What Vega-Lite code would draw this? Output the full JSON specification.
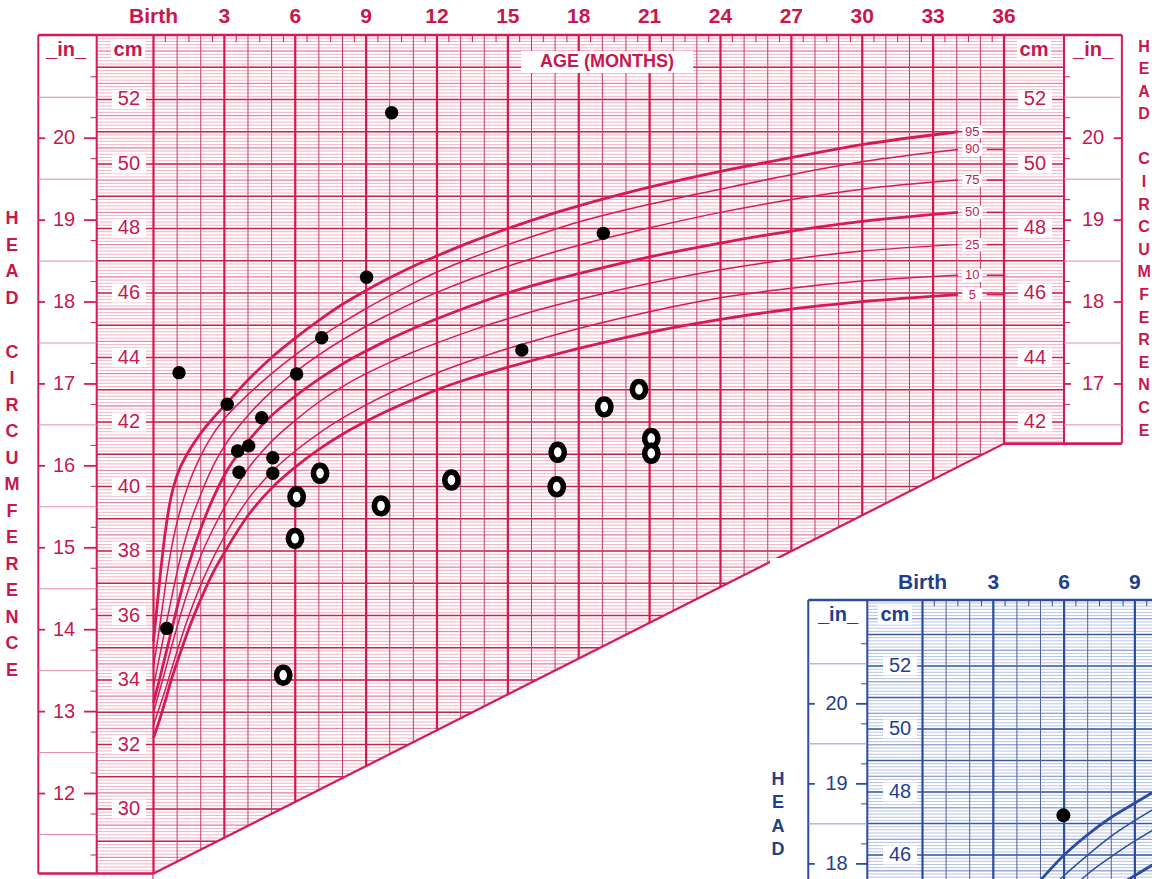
{
"$schema":"https://vega.github.io/schema/vega-lite/v6.json",
"width":1152,"height":879,"autosize":{"type":"none"},"padding":0,"background":"white",
"config":{"view":{"stroke":null},"text":{"font":"Liberation Sans"}},
"datasets":{
"fine":[{"cm":28},{"cm":28.1},{"cm":28.2},{"cm":28.3},{"cm":28.4},{"cm":28.5},{"cm":28.6},{"cm":28.7},{"cm":28.8},{"cm":28.9},{"cm":29},{"cm":29.1},{"cm":29.2},{"cm":29.3},{"cm":29.4},{"cm":29.5},{"cm":29.6},{"cm":29.7},{"cm":29.8},{"cm":29.9},{"cm":30},{"cm":30.1},{"cm":30.2},{"cm":30.3},{"cm":30.4},{"cm":30.5},{"cm":30.6},{"cm":30.7},{"cm":30.8},{"cm":30.9},{"cm":31},{"cm":31.1},{"cm":31.2},{"cm":31.3},{"cm":31.4},{"cm":31.5},{"cm":31.6},{"cm":31.7},{"cm":31.8},{"cm":31.9},{"cm":32},{"cm":32.1},{"cm":32.2},{"cm":32.3},{"cm":32.4},{"cm":32.5},{"cm":32.6},{"cm":32.7},{"cm":32.8},{"cm":32.9},{"cm":33},{"cm":33.1},{"cm":33.2},{"cm":33.3},{"cm":33.4},{"cm":33.5},{"cm":33.6},{"cm":33.7},{"cm":33.8},{"cm":33.9},{"cm":34},{"cm":34.1},{"cm":34.2},{"cm":34.3},{"cm":34.4},{"cm":34.5},{"cm":34.6},{"cm":34.7},{"cm":34.8},{"cm":34.9},{"cm":35},{"cm":35.1},{"cm":35.2},{"cm":35.3},{"cm":35.4},{"cm":35.5},{"cm":35.6},{"cm":35.7},{"cm":35.8},{"cm":35.9},{"cm":36},{"cm":36.1},{"cm":36.2},{"cm":36.3},{"cm":36.4},{"cm":36.5},{"cm":36.6},{"cm":36.7},{"cm":36.8},{"cm":36.9},{"cm":37},{"cm":37.1},{"cm":37.2},{"cm":37.3},{"cm":37.4},{"cm":37.5},{"cm":37.6},{"cm":37.7},{"cm":37.8},{"cm":37.9},{"cm":38},{"cm":38.1},{"cm":38.2},{"cm":38.3},{"cm":38.4},{"cm":38.5},{"cm":38.6},{"cm":38.7},{"cm":38.8},{"cm":38.9},{"cm":39},{"cm":39.1},{"cm":39.2},{"cm":39.3},{"cm":39.4},{"cm":39.5},{"cm":39.6},{"cm":39.7},{"cm":39.8},{"cm":39.9},{"cm":40},{"cm":40.1},{"cm":40.2},{"cm":40.3},{"cm":40.4},{"cm":40.5},{"cm":40.6},{"cm":40.7},{"cm":40.8},{"cm":40.9},{"cm":41},{"cm":41.1},{"cm":41.2},{"cm":41.3},{"cm":41.4},{"cm":41.5},{"cm":41.6},{"cm":41.7},{"cm":41.8},{"cm":41.9},{"cm":42},{"cm":42.1},{"cm":42.2},{"cm":42.3},{"cm":42.4},{"cm":42.5},{"cm":42.6},{"cm":42.7},{"cm":42.8},{"cm":42.9},{"cm":43},{"cm":43.1},{"cm":43.2},{"cm":43.3},{"cm":43.4},{"cm":43.5},{"cm":43.6},{"cm":43.7},{"cm":43.8},{"cm":43.9},{"cm":44},{"cm":44.1},{"cm":44.2},{"cm":44.3},{"cm":44.4},{"cm":44.5},{"cm":44.6},{"cm":44.7},{"cm":44.8},{"cm":44.9},{"cm":45},{"cm":45.1},{"cm":45.2},{"cm":45.3},{"cm":45.4},{"cm":45.5},{"cm":45.6},{"cm":45.7},{"cm":45.8},{"cm":45.9},{"cm":46},{"cm":46.1},{"cm":46.2},{"cm":46.3},{"cm":46.4},{"cm":46.5},{"cm":46.6},{"cm":46.7},{"cm":46.8},{"cm":46.9},{"cm":47},{"cm":47.1},{"cm":47.2},{"cm":47.3},{"cm":47.4},{"cm":47.5},{"cm":47.6},{"cm":47.7},{"cm":47.8},{"cm":47.9},{"cm":48},{"cm":48.1},{"cm":48.2},{"cm":48.3},{"cm":48.4},{"cm":48.5},{"cm":48.6},{"cm":48.7},{"cm":48.8},{"cm":48.9},{"cm":49},{"cm":49.1},{"cm":49.2},{"cm":49.3},{"cm":49.4},{"cm":49.5},{"cm":49.6},{"cm":49.7},{"cm":49.8},{"cm":49.9},{"cm":50},{"cm":50.1},{"cm":50.2},{"cm":50.3},{"cm":50.4},{"cm":50.5},{"cm":50.6},{"cm":50.7},{"cm":50.8},{"cm":50.9},{"cm":51},{"cm":51.1},{"cm":51.2},{"cm":51.3},{"cm":51.4},{"cm":51.5},{"cm":51.6},{"cm":51.7},{"cm":51.8},{"cm":51.9},{"cm":52},{"cm":52.1},{"cm":52.2},{"cm":52.3},{"cm":52.4},{"cm":52.5},{"cm":52.6},{"cm":52.7},{"cm":52.8},{"cm":52.9},{"cm":53},{"cm":53.1},{"cm":53.2},{"cm":53.3},{"cm":53.4},{"cm":53.5},{"cm":53.6},{"cm":53.7},{"cm":53.8},{"cm":53.9},{"cm":54}],
"half":[{"cm":28.5},{"cm":29.5},{"cm":30.5},{"cm":31.5},{"cm":32.5},{"cm":33.5},{"cm":34.5},{"cm":35.5},{"cm":36.5},{"cm":37.5},{"cm":38.5},{"cm":39.5},{"cm":40.5},{"cm":41.5},{"cm":42.5},{"cm":43.5},{"cm":44.5},{"cm":45.5},{"cm":46.5},{"cm":47.5},{"cm":48.5},{"cm":49.5},{"cm":50.5},{"cm":51.5},{"cm":52.5},{"cm":53.5}],
"whole":[{"cm":29},{"cm":30},{"cm":31},{"cm":32},{"cm":33},{"cm":34},{"cm":35},{"cm":36},{"cm":37},{"cm":38},{"cm":39},{"cm":40},{"cm":41},{"cm":42},{"cm":43},{"cm":44},{"cm":45},{"cm":46},{"cm":47},{"cm":48},{"cm":49},{"cm":50},{"cm":51},{"cm":52},{"cm":53}],
"months":[{"m":1},{"m":2},{"m":4},{"m":5},{"m":7},{"m":8},{"m":10},{"m":11},{"m":13},{"m":14},{"m":16},{"m":17},{"m":19},{"m":20},{"m":22},{"m":23},{"m":25},{"m":26},{"m":28},{"m":29},{"m":31},{"m":32},{"m":34},{"m":35}],
"halfm":[{"m":0.5},{"m":1.5},{"m":2.5},{"m":3.5},{"m":4.5},{"m":5.5},{"m":6.5},{"m":7.5},{"m":8.5},{"m":9.5},{"m":10.5},{"m":11.5},{"m":12.5},{"m":13.5},{"m":14.5},{"m":15.5},{"m":16.5},{"m":17.5},{"m":18.5},{"m":19.5},{"m":20.5},{"m":21.5},{"m":22.5},{"m":23.5},{"m":24.5},{"m":25.5},{"m":26.5},{"m":27.5},{"m":28.5},{"m":29.5},{"m":30.5},{"m":31.5},{"m":32.5},{"m":33.5},{"m":34.5},{"m":35.5}],
"m3":[{"m":0,"lab":"Birth"},{"m":3,"lab":"3"},{"m":6,"lab":"6"},{"m":9,"lab":"9"},{"m":12,"lab":"12"},{"m":15,"lab":"15"},{"m":18,"lab":"18"},{"m":21,"lab":"21"},{"m":24,"lab":"24"},{"m":27,"lab":"27"},{"m":30,"lab":"30"},{"m":33,"lab":"33"},{"m":36,"lab":"36"}],
"cmlab":[{"cm":30},{"cm":32},{"cm":34},{"cm":36},{"cm":38},{"cm":40},{"cm":42},{"cm":44},{"cm":46},{"cm":48},{"cm":50},{"cm":52}],
"inlab":[{"inch":"12","cm":30.48},{"inch":"13","cm":33.02},{"inch":"14","cm":35.56},{"inch":"15","cm":38.1},{"inch":"16","cm":40.64},{"inch":"17","cm":43.18},{"inch":"18","cm":45.72},{"inch":"19","cm":48.26},{"inch":"20","cm":50.8}],
"halfin":[{"cm":29.21},{"cm":31.75},{"cm":34.29},{"cm":36.83},{"cm":39.37},{"cm":41.91},{"cm":44.45},{"cm":46.99},{"cm":49.53},{"cm":52.07}],
"qin":[{"cm":28.575},{"cm":29.845},{"cm":31.115},{"cm":32.385},{"cm":33.655},{"cm":34.925},{"cm":36.195},{"cm":37.465},{"cm":38.735},{"cm":40.005},{"cm":41.275},{"cm":42.545},{"cm":43.815},{"cm":45.085},{"cm":46.355},{"cm":47.625},{"cm":48.895},{"cm":50.165},{"cm":51.435},{"cm":52.705}],
"diag":[{"age":0,"cm":28},{"age":36,"cm":41.33},{"age":42.4,"cm":41.33}],
"curves":[
{"pct":"95","age":0,"cm":35.2},{"pct":"95","age":0.25,"cm":37.0},{"pct":"95","age":0.5,"cm":38.6},{"pct":"95","age":0.75,"cm":39.7},{"pct":"95","age":1,"cm":40.35},{"pct":"95","age":1.5,"cm":41.1},{"pct":"95","age":2,"cm":41.65},{"pct":"95","age":2.5,"cm":42.1},{"pct":"95","age":3,"cm":42.5},{"pct":"95","age":4,"cm":43.3},{"pct":"95","age":5,"cm":44.0},{"pct":"95","age":6,"cm":44.6},{"pct":"95","age":7,"cm":45.15},{"pct":"95","age":8,"cm":45.65},{"pct":"95","age":9,"cm":46.08},{"pct":"95","age":10,"cm":46.47},{"pct":"95","age":11,"cm":46.83},{"pct":"95","age":12,"cm":47.15},{"pct":"95","age":13.5,"cm":47.6},{"pct":"95","age":15,"cm":48.0},{"pct":"95","age":16.5,"cm":48.37},{"pct":"95","age":18,"cm":48.7},{"pct":"95","age":21,"cm":49.28},{"pct":"95","age":24,"cm":49.77},{"pct":"95","age":27,"cm":50.2},{"pct":"95","age":30,"cm":50.6},{"pct":"95","age":34.05,"cm":51.0},
{"pct":"90","age":0,"cm":34.4},{"pct":"90","age":0.25,"cm":35.6},{"pct":"90","age":0.5,"cm":36.9},{"pct":"90","age":0.75,"cm":38.05},{"pct":"90","age":1,"cm":38.9},{"pct":"90","age":1.5,"cm":40.1},{"pct":"90","age":2,"cm":40.95},{"pct":"90","age":2.5,"cm":41.6},{"pct":"90","age":3,"cm":42.1},{"pct":"90","age":4,"cm":42.85},{"pct":"90","age":5,"cm":43.5},{"pct":"90","age":6,"cm":44.08},{"pct":"90","age":7,"cm":44.6},{"pct":"90","age":8,"cm":45.08},{"pct":"90","age":9,"cm":45.52},{"pct":"90","age":10,"cm":45.92},{"pct":"90","age":11,"cm":46.3},{"pct":"90","age":12,"cm":46.65},{"pct":"90","age":13.5,"cm":47.1},{"pct":"90","age":15,"cm":47.5},{"pct":"90","age":16.5,"cm":47.86},{"pct":"90","age":18,"cm":48.2},{"pct":"90","age":21,"cm":48.75},{"pct":"90","age":24,"cm":49.22},{"pct":"90","age":27,"cm":49.67},{"pct":"90","age":30,"cm":50.07},{"pct":"90","age":34.05,"cm":50.45},
{"pct":"75","age":0,"cm":33.8},{"pct":"75","age":0.25,"cm":34.7},{"pct":"75","age":0.5,"cm":35.6},{"pct":"75","age":0.75,"cm":36.5},{"pct":"75","age":1,"cm":37.35},{"pct":"75","age":1.5,"cm":38.75},{"pct":"75","age":2,"cm":39.75},{"pct":"75","age":2.5,"cm":40.6},{"pct":"75","age":3,"cm":41.25},{"pct":"75","age":4,"cm":42.2},{"pct":"75","age":5,"cm":42.95},{"pct":"75","age":6,"cm":43.55},{"pct":"75","age":7,"cm":44.08},{"pct":"75","age":8,"cm":44.55},{"pct":"75","age":9,"cm":44.97},{"pct":"75","age":10,"cm":45.35},{"pct":"75","age":11,"cm":45.7},{"pct":"75","age":12,"cm":46.02},{"pct":"75","age":13.5,"cm":46.45},{"pct":"75","age":15,"cm":46.83},{"pct":"75","age":16.5,"cm":47.17},{"pct":"75","age":18,"cm":47.48},{"pct":"75","age":21,"cm":48.02},{"pct":"75","age":24,"cm":48.5},{"pct":"75","age":27,"cm":48.9},{"pct":"75","age":30,"cm":49.22},{"pct":"75","age":34.05,"cm":49.5},
{"pct":"50","age":0,"cm":33.3},{"pct":"50","age":0.25,"cm":34.0},{"pct":"50","age":0.5,"cm":34.75},{"pct":"50","age":0.75,"cm":35.5},{"pct":"50","age":1,"cm":36.25},{"pct":"50","age":1.5,"cm":37.6},{"pct":"50","age":2,"cm":38.7},{"pct":"50","age":2.5,"cm":39.6},{"pct":"50","age":3,"cm":40.35},{"pct":"50","age":4,"cm":41.4},{"pct":"50","age":5,"cm":42.2},{"pct":"50","age":6,"cm":42.8},{"pct":"50","age":7,"cm":43.33},{"pct":"50","age":8,"cm":43.8},{"pct":"50","age":9,"cm":44.2},{"pct":"50","age":10,"cm":44.57},{"pct":"50","age":11,"cm":44.9},{"pct":"50","age":12,"cm":45.2},{"pct":"50","age":13.5,"cm":45.62},{"pct":"50","age":15,"cm":46.0},{"pct":"50","age":16.5,"cm":46.32},{"pct":"50","age":18,"cm":46.6},{"pct":"50","age":21,"cm":47.12},{"pct":"50","age":24,"cm":47.55},{"pct":"50","age":27,"cm":47.92},{"pct":"50","age":30,"cm":48.22},{"pct":"50","age":34.05,"cm":48.5},
{"pct":"25","age":0,"cm":33.0},{"pct":"25","age":0.25,"cm":33.65},{"pct":"25","age":0.5,"cm":34.3},{"pct":"25","age":0.75,"cm":35.0},{"pct":"25","age":1,"cm":35.65},{"pct":"25","age":1.5,"cm":36.85},{"pct":"25","age":2,"cm":37.85},{"pct":"25","age":2.5,"cm":38.65},{"pct":"25","age":3,"cm":39.35},{"pct":"25","age":4,"cm":40.55},{"pct":"25","age":5,"cm":41.4},{"pct":"25","age":6,"cm":42.05},{"pct":"25","age":7,"cm":42.62},{"pct":"25","age":8,"cm":43.1},{"pct":"25","age":9,"cm":43.5},{"pct":"25","age":10,"cm":43.85},{"pct":"25","age":11,"cm":44.17},{"pct":"25","age":12,"cm":44.45},{"pct":"25","age":13.5,"cm":44.85},{"pct":"25","age":15,"cm":45.2},{"pct":"25","age":16.5,"cm":45.52},{"pct":"25","age":18,"cm":45.8},{"pct":"25","age":21,"cm":46.3},{"pct":"25","age":24,"cm":46.72},{"pct":"25","age":27,"cm":47.05},{"pct":"25","age":30,"cm":47.3},{"pct":"25","age":34.05,"cm":47.5},
{"pct":"10","age":0,"cm":32.6},{"pct":"10","age":0.25,"cm":33.15},{"pct":"10","age":0.5,"cm":33.7},{"pct":"10","age":0.75,"cm":34.3},{"pct":"10","age":1,"cm":34.9},{"pct":"10","age":1.5,"cm":36.0},{"pct":"10","age":2,"cm":36.95},{"pct":"10","age":2.5,"cm":37.75},{"pct":"10","age":3,"cm":38.45},{"pct":"10","age":4,"cm":39.6},{"pct":"10","age":5,"cm":40.45},{"pct":"10","age":6,"cm":41.1},{"pct":"10","age":7,"cm":41.65},{"pct":"10","age":8,"cm":42.12},{"pct":"10","age":9,"cm":42.53},{"pct":"10","age":10,"cm":42.9},{"pct":"10","age":11,"cm":43.22},{"pct":"10","age":12,"cm":43.52},{"pct":"10","age":13.5,"cm":43.92},{"pct":"10","age":15,"cm":44.28},{"pct":"10","age":16.5,"cm":44.6},{"pct":"10","age":18,"cm":44.9},{"pct":"10","age":21,"cm":45.42},{"pct":"10","age":24,"cm":45.85},{"pct":"10","age":27,"cm":46.15},{"pct":"10","age":30,"cm":46.37},{"pct":"10","age":34.05,"cm":46.55},
{"pct":"5","age":0,"cm":32.2},{"pct":"5","age":0.25,"cm":32.75},{"pct":"5","age":0.5,"cm":33.35},{"pct":"5","age":0.75,"cm":34.0},{"pct":"5","age":1,"cm":34.55},{"pct":"5","age":1.5,"cm":35.6},{"pct":"5","age":2,"cm":36.5},{"pct":"5","age":2.5,"cm":37.3},{"pct":"5","age":3,"cm":37.95},{"pct":"5","age":4,"cm":39.1},{"pct":"5","age":5,"cm":39.95},{"pct":"5","age":6,"cm":40.6},{"pct":"5","age":7,"cm":41.15},{"pct":"5","age":8,"cm":41.62},{"pct":"5","age":9,"cm":42.02},{"pct":"5","age":10,"cm":42.38},{"pct":"5","age":11,"cm":42.7},{"pct":"5","age":12,"cm":43.0},{"pct":"5","age":13.5,"cm":43.38},{"pct":"5","age":15,"cm":43.7},{"pct":"5","age":16.5,"cm":44.0},{"pct":"5","age":18,"cm":44.28},{"pct":"5","age":21,"cm":44.78},{"pct":"5","age":24,"cm":45.18},{"pct":"5","age":27,"cm":45.5},{"pct":"5","age":30,"cm":45.73},{"pct":"5","age":34.05,"cm":45.95}],
"ends":[{"pct":"95","cm":51.0},{"pct":"90","cm":50.45},{"pct":"75","cm":49.5},{"pct":"50","cm":48.5},{"pct":"25","cm":47.5},{"pct":"10","cm":46.55},{"pct":"5","cm":45.95}],
"dots":[{"age":10.08,"cm":51.59},{"age":19.04,"cm":47.85},{"age":9.02,"cm":46.49},{"age":7.12,"cm":44.61},{"age":1.08,"cm":43.53},{"age":6.06,"cm":43.49},{"age":15.59,"cm":44.23},{"age":3.12,"cm":42.55},{"age":4.58,"cm":42.13},{"age":3.56,"cm":41.1},{"age":4.03,"cm":41.26},{"age":5.05,"cm":40.89},{"age":3.62,"cm":40.44},{"age":5.05,"cm":40.41},{"age":0.56,"cm":35.6}],
"rings":[{"age":20.55,"cm":43.01},{"age":19.08,"cm":42.47},{"age":21.07,"cm":41.49},{"age":21.07,"cm":41.03},{"age":17.11,"cm":41.06},{"age":17.07,"cm":39.99},{"age":7.05,"cm":40.41},{"age":12.61,"cm":40.2},{"age":6.06,"cm":39.68},{"age":9.63,"cm":39.4},{"age":5.99,"cm":38.39},{"age":5.49,"cm":34.15}],
"bcurves":[
{"pct":"95","age":4,"cm":44.35},{"pct":"95","age":5,"cm":45.2},{"pct":"95","age":6,"cm":46.0},{"pct":"95","age":7,"cm":46.65},{"pct":"95","age":8,"cm":47.2},{"pct":"95","age":9,"cm":47.65},{"pct":"95","age":10,"cm":48.1},
{"pct":"90","age":4,"cm":43.8},{"pct":"90","age":5,"cm":44.6},{"pct":"90","age":6,"cm":45.35},{"pct":"90","age":7,"cm":46.0},{"pct":"90","age":8,"cm":46.6},{"pct":"90","age":9,"cm":47.1},{"pct":"90","age":10,"cm":47.55},
{"pct":"75","age":4,"cm":43.1},{"pct":"75","age":5,"cm":43.9},{"pct":"75","age":6,"cm":44.7},{"pct":"75","age":7,"cm":45.4},{"pct":"75","age":8,"cm":45.95},{"pct":"75","age":9,"cm":46.45},{"pct":"75","age":10,"cm":46.9},
{"pct":"50","age":4,"cm":42.3},{"pct":"50","age":5,"cm":43.1},{"pct":"50","age":6,"cm":43.8},{"pct":"50","age":7,"cm":44.4},{"pct":"50","age":8,"cm":44.9},{"pct":"50","age":9,"cm":45.35},{"pct":"50","age":10,"cm":45.8}],
"bdot":[{"age":5.97,"cm":47.26}]
},
"layer":[
{"layer":[
{"data":{"name":"fine"},"mark":{"type":"rule","color":"#f4b3c6","strokeWidth":1},"encoding":{"x":{"datum":-2.404,"type":"quantitative","scale":{"domain":[-6.497,42.265],"nice":false,"zero":false},"axis":null},"x2":{"datum":38.54},"y":{"field":"cm","type":"quantitative","scale":{"domain":[27.83,55.085],"nice":false,"zero":false},"axis":null}}},
{"data":{"name":"half"},"mark":{"type":"rule","color":"#e47e9f","strokeWidth":1},"encoding":{"x":{"datum":-2.404,"type":"quantitative","scale":{"domain":[-6.497,42.265],"nice":false,"zero":false},"axis":null},"x2":{"datum":38.54},"y":{"field":"cm","type":"quantitative","scale":{"domain":[27.83,55.085],"nice":false,"zero":false},"axis":null}}},
{"data":{"name":"whole"},"mark":{"type":"rule","color":"#c8224f","strokeWidth":1.6},"encoding":{"x":{"datum":-2.404,"type":"quantitative","scale":{"domain":[-6.497,42.265],"nice":false,"zero":false},"axis":null},"x2":{"datum":38.54},"y":{"field":"cm","type":"quantitative","scale":{"domain":[27.83,55.085],"nice":false,"zero":false},"axis":null}}},
{"data":{"name":"months"},"mark":{"type":"rule","color":"#bf3d66","strokeWidth":1},"encoding":{"x":{"field":"m","type":"quantitative","scale":{"domain":[-6.497,42.265],"nice":false,"zero":false},"axis":null},"y":{"datum":27.5,"type":"quantitative","scale":{"domain":[27.83,55.085],"nice":false,"zero":false},"axis":null},"y2":{"datum":54.0}}},
{"data":{"name":"m3"},"mark":{"type":"rule","color":"#d2184f","strokeWidth":2.2},"encoding":{"x":{"field":"m","type":"quantitative","scale":{"domain":[-6.497,42.265],"nice":false,"zero":false},"axis":null},"y":{"datum":27.5,"type":"quantitative","scale":{"domain":[27.83,55.085],"nice":false,"zero":false},"axis":null},"y2":{"datum":54.0}}},
{"data":{"name":"halfm"},"mark":{"type":"rule","color":"#c8224f","strokeWidth":1},"encoding":{"x":{"field":"m","type":"quantitative","scale":{"domain":[-6.497,42.265],"nice":false,"zero":false},"axis":null},"y":{"datum":53.78,"type":"quantitative","scale":{"domain":[27.83,55.085],"nice":false,"zero":false},"axis":null},"y2":{"datum":54.0}}},
{"data":{"name":"diag"},"mark":{"type":"area","color":"white","opacity":1},"encoding":{"x":{"field":"age","type":"quantitative","scale":{"domain":[-6.497,42.265],"nice":false,"zero":false},"axis":null},"y":{"field":"cm","type":"quantitative","scale":{"domain":[27.83,55.085],"nice":false,"zero":false},"axis":null},"y2":{"datum":26.5}}},
{"data":{"name":"diag"},"transform":[{"filter":"datum.age <= 36"}],"mark":{"type":"line","color":"#d41b58","strokeWidth":2.2},"encoding":{"x":{"field":"age","type":"quantitative","scale":{"domain":[-6.497,42.265],"nice":false,"zero":false},"axis":null},"y":{"field":"cm","type":"quantitative","scale":{"domain":[27.83,55.085],"nice":false,"zero":false},"axis":null}}},
{"data":{"values":[{}]},"mark":{"type":"rule","color":"#d41b58","strokeWidth":2.6},"encoding":{"x":{"datum":-4.876,"type":"quantitative","scale":{"domain":[-6.497,42.265],"nice":false,"zero":false},"axis":null},"x2":{"datum":40.99},"y":{"datum":54.0,"type":"quantitative","scale":{"domain":[27.83,55.085],"nice":false,"zero":false},"axis":null}}},
{"data":{"values":[{}]},"mark":{"type":"rule","color":"#d41b58","strokeWidth":2.6},"encoding":{"x":{"datum":-4.876,"type":"quantitative","scale":{"domain":[-6.497,42.265],"nice":false,"zero":false},"axis":null},"x2":{"datum":0},"y":{"datum":28.0,"type":"quantitative","scale":{"domain":[27.83,55.085],"nice":false,"zero":false},"axis":null}}},
{"data":{"values":[{}]},"mark":{"type":"rule","color":"#d41b58","strokeWidth":2.6},"encoding":{"x":{"datum":36,"type":"quantitative","scale":{"domain":[-6.497,42.265],"nice":false,"zero":false},"axis":null},"x2":{"datum":40.99},"y":{"datum":41.33,"type":"quantitative","scale":{"domain":[27.83,55.085],"nice":false,"zero":false},"axis":null}}},
{"data":{"values":[{}]},"mark":{"type":"rule","color":"#d41b58","strokeWidth":2},"encoding":{"x":{"datum":-4.876,"type":"quantitative","scale":{"domain":[-6.497,42.265],"nice":false,"zero":false},"axis":null},"y":{"datum":28.0,"type":"quantitative","scale":{"domain":[27.83,55.085],"nice":false,"zero":false},"axis":null},"y2":{"datum":54.0}}},
{"data":{"values":[{}]},"mark":{"type":"rule","color":"#d41b58","strokeWidth":2},"encoding":{"x":{"datum":-2.404,"type":"quantitative","scale":{"domain":[-6.497,42.265],"nice":false,"zero":false},"axis":null},"y":{"datum":28.0,"type":"quantitative","scale":{"domain":[27.83,55.085],"nice":false,"zero":false},"axis":null},"y2":{"datum":54.0}}},
{"data":{"values":[{}]},"mark":{"type":"rule","color":"#d41b58","strokeWidth":2},"encoding":{"x":{"datum":38.54,"type":"quantitative","scale":{"domain":[-6.497,42.265],"nice":false,"zero":false},"axis":null},"y":{"datum":41.33,"type":"quantitative","scale":{"domain":[27.83,55.085],"nice":false,"zero":false},"axis":null},"y2":{"datum":54.0}}},
{"data":{"values":[{}]},"mark":{"type":"rule","color":"#d41b58","strokeWidth":2},"encoding":{"x":{"datum":40.99,"type":"quantitative","scale":{"domain":[-6.497,42.265],"nice":false,"zero":false},"axis":null},"y":{"datum":41.33,"type":"quantitative","scale":{"domain":[27.83,55.085],"nice":false,"zero":false},"axis":null},"y2":{"datum":54.0}}},
{"data":{"name":"halfin"},"mark":{"type":"rule","color":"#e58aa6","strokeWidth":1},"encoding":{"x":{"datum":-4.876,"type":"quantitative","scale":{"domain":[-6.497,42.265],"nice":false,"zero":false},"axis":null},"x2":{"datum":-2.404},"y":{"field":"cm","type":"quantitative","scale":{"domain":[27.83,55.085],"nice":false,"zero":false},"axis":null}}},
{"data":{"name":"halfin"},"transform":[{"filter":"datum.cm > 41.5"}],"mark":{"type":"rule","color":"#e58aa6","strokeWidth":1},"encoding":{"x":{"datum":38.54,"type":"quantitative","scale":{"domain":[-6.497,42.265],"nice":false,"zero":false},"axis":null},"x2":{"datum":40.99},"y":{"field":"cm","type":"quantitative","scale":{"domain":[27.83,55.085],"nice":false,"zero":false},"axis":null}}},
{"data":{"name":"qin"},"mark":{"type":"rule","color":"#d41b58","strokeWidth":1},"encoding":{"x":{"datum":-2.658,"type":"quantitative","scale":{"domain":[-6.497,42.265],"nice":false,"zero":false},"axis":null},"x2":{"datum":-2.404},"y":{"field":"cm","type":"quantitative","scale":{"domain":[27.83,55.085],"nice":false,"zero":false},"axis":null}}},
{"data":{"name":"qin"},"transform":[{"filter":"datum.cm > 41.4"}],"mark":{"type":"rule","color":"#d41b58","strokeWidth":1},"encoding":{"x":{"datum":38.54,"type":"quantitative","scale":{"domain":[-6.497,42.265],"nice":false,"zero":false},"axis":null},"x2":{"datum":38.794},"y":{"field":"cm","type":"quantitative","scale":{"domain":[27.83,55.085],"nice":false,"zero":false},"axis":null}}},
{"data":{"name":"inlab"},"mark":{"type":"rule","color":"#d41b58","strokeWidth":1.8},"encoding":{"x":{"datum":-4.876,"type":"quantitative","scale":{"domain":[-6.497,42.265],"nice":false,"zero":false},"axis":null},"x2":{"datum":-4.593},"y":{"field":"cm","type":"quantitative","scale":{"domain":[27.83,55.085],"nice":false,"zero":false},"axis":null}}},
{"data":{"name":"inlab"},"mark":{"type":"rule","color":"#d41b58","strokeWidth":1.8},"encoding":{"x":{"datum":-2.942,"type":"quantitative","scale":{"domain":[-6.497,42.265],"nice":false,"zero":false},"axis":null},"x2":{"datum":-2.404},"y":{"field":"cm","type":"quantitative","scale":{"domain":[27.83,55.085],"nice":false,"zero":false},"axis":null}}},
{"data":{"name":"inlab"},"transform":[{"filter":"datum.cm > 42"}],"mark":{"type":"rule","color":"#d41b58","strokeWidth":1.8},"encoding":{"x":{"datum":38.54,"type":"quantitative","scale":{"domain":[-6.497,42.265],"nice":false,"zero":false},"axis":null},"x2":{"datum":38.84},"y":{"field":"cm","type":"quantitative","scale":{"domain":[27.83,55.085],"nice":false,"zero":false},"axis":null}}},
{"data":{"name":"inlab"},"transform":[{"filter":"datum.cm > 42"}],"mark":{"type":"rule","color":"#d41b58","strokeWidth":1.8},"encoding":{"x":{"datum":40.65,"type":"quantitative","scale":{"domain":[-6.497,42.265],"nice":false,"zero":false},"axis":null},"x2":{"datum":40.99},"y":{"field":"cm","type":"quantitative","scale":{"domain":[27.83,55.085],"nice":false,"zero":false},"axis":null}}},
{"data":{"name":"curves"},"transform":[{"filter":{"field":"pct","oneOf":["10","25","75","90"]}}],"mark":{"type":"line","color":"#d41b58","strokeWidth":1.5,"interpolate":"monotone"},"encoding":{"x":{"field":"age","type":"quantitative","scale":{"domain":[-6.497,42.265],"nice":false,"zero":false},"axis":null},"y":{"field":"cm","type":"quantitative","scale":{"domain":[27.83,55.085],"nice":false,"zero":false},"axis":null},"detail":{"field":"pct","type":"nominal"}}},
{"data":{"name":"curves"},"transform":[{"filter":{"field":"pct","oneOf":["5","50","95"]}}],"mark":{"type":"line","color":"#d41b58","strokeWidth":2.8,"interpolate":"monotone"},"encoding":{"x":{"field":"age","type":"quantitative","scale":{"domain":[-6.497,42.265],"nice":false,"zero":false},"axis":null},"y":{"field":"cm","type":"quantitative","scale":{"domain":[27.83,55.085],"nice":false,"zero":false},"axis":null},"detail":{"field":"pct","type":"nominal"}}},
{"data":{"name":"ends"},"mark":{"type":"rule","color":"#d41b58","strokeWidth":1.6},"encoding":{"x":{"datum":35.27,"type":"quantitative","scale":{"domain":[-6.497,42.265],"nice":false,"zero":false},"axis":null},"x2":{"datum":36},"y":{"field":"cm","type":"quantitative","scale":{"domain":[27.83,55.085],"nice":false,"zero":false},"axis":null}}},
{"data":{"name":"ends"},"mark":{"type":"point","shape":"M-1,-0.65H1V0.65H-1Z","size":400,"filled":true,"color":"white","opacity":1},"encoding":{"x":{"datum":34.66,"type":"quantitative","scale":{"domain":[-6.497,42.265],"nice":false,"zero":false},"axis":null},"y":{"field":"cm","type":"quantitative","scale":{"domain":[27.83,55.085],"nice":false,"zero":false},"axis":null}}},
{"data":{"name":"cmlab"},"mark":{"type":"point","shape":"M-1,-0.56H1V0.56H-1Z","size":1156,"filled":true,"color":"white","opacity":1},"encoding":{"x":{"datum":-1.037,"type":"quantitative","scale":{"domain":[-6.497,42.265],"nice":false,"zero":false},"axis":null},"y":{"field":"cm","type":"quantitative","scale":{"domain":[27.83,55.085],"nice":false,"zero":false},"axis":null}}},
{"data":{"name":"cmlab"},"transform":[{"filter":"datum.cm >= 42"}],"mark":{"type":"point","shape":"M-1,-0.56H1V0.56H-1Z","size":1156,"filled":true,"color":"white","opacity":1},"encoding":{"x":{"datum":37.31,"type":"quantitative","scale":{"domain":[-6.497,42.265],"nice":false,"zero":false},"axis":null},"y":{"field":"cm","type":"quantitative","scale":{"domain":[27.83,55.085],"nice":false,"zero":false},"axis":null}}},
{"data":{"values":[{}]},"mark":{"type":"point","shape":"M-1,-0.56H1V0.56H-1Z","size":1156,"filled":true,"color":"white","opacity":1},"encoding":{"x":{"datum":-1.08,"type":"quantitative","scale":{"domain":[-6.497,42.265],"nice":false,"zero":false},"axis":null},"y":{"datum":53.53,"type":"quantitative","scale":{"domain":[27.83,55.085],"nice":false,"zero":false},"axis":null}}},
{"data":{"values":[{}]},"mark":{"type":"point","shape":"M-1,-0.56H1V0.56H-1Z","size":1156,"filled":true,"color":"white","opacity":1},"encoding":{"x":{"datum":37.27,"type":"quantitative","scale":{"domain":[-6.497,42.265],"nice":false,"zero":false},"axis":null},"y":{"datum":53.53,"type":"quantitative","scale":{"domain":[27.83,55.085],"nice":false,"zero":false},"axis":null}}},
{"data":{"values":[{}]},"mark":{"type":"point","shape":"M-1,-0.128H1V0.128H-1Z","size":29584,"filled":true,"color":"white","opacity":1},"encoding":{"x":{"datum":19.2,"type":"quantitative","scale":{"domain":[-6.497,42.265],"nice":false,"zero":false},"axis":null},"y":{"datum":53.16,"type":"quantitative","scale":{"domain":[27.83,55.085],"nice":false,"zero":false},"axis":null}}},
{"data":{"name":"m3"},"mark":{"type":"text","fontSize":21,"fontWeight":"bold","color":"#c8174f","align":"center","baseline":"middle"},"encoding":{"x":{"field":"m","type":"quantitative","scale":{"domain":[-6.497,42.265],"nice":false,"zero":false},"axis":null},"y":{"datum":54.56,"type":"quantitative","scale":{"domain":[27.83,55.085],"nice":false,"zero":false},"axis":null},"text":{"field":"lab","type":"nominal"}}},
{"data":{"name":"cmlab"},"mark":{"type":"text","fontSize":20,"color":"#c8174f","align":"center","baseline":"middle"},"encoding":{"x":{"datum":-1.037,"type":"quantitative","scale":{"domain":[-6.497,42.265],"nice":false,"zero":false},"axis":null},"y":{"field":"cm","type":"quantitative","scale":{"domain":[27.83,55.085],"nice":false,"zero":false},"axis":null},"text":{"field":"cm","type":"quantitative","format":"d"}}},
{"data":{"name":"cmlab"},"transform":[{"filter":"datum.cm >= 42"}],"mark":{"type":"text","fontSize":20,"color":"#c8174f","align":"center","baseline":"middle"},"encoding":{"x":{"datum":37.31,"type":"quantitative","scale":{"domain":[-6.497,42.265],"nice":false,"zero":false},"axis":null},"y":{"field":"cm","type":"quantitative","scale":{"domain":[27.83,55.085],"nice":false,"zero":false},"axis":null},"text":{"field":"cm","type":"quantitative","format":"d"}}},
{"data":{"name":"inlab"},"mark":{"type":"text","fontSize":20,"color":"#c8174f","align":"center","baseline":"middle"},"encoding":{"x":{"datum":-3.788,"type":"quantitative","scale":{"domain":[-6.497,42.265],"nice":false,"zero":false},"axis":null},"y":{"field":"cm","type":"quantitative","scale":{"domain":[27.83,55.085],"nice":false,"zero":false},"axis":null},"text":{"field":"inch","type":"nominal"}}},
{"data":{"name":"inlab"},"transform":[{"filter":"datum.cm > 42"}],"mark":{"type":"text","fontSize":20,"color":"#c8174f","align":"center","baseline":"middle"},"encoding":{"x":{"datum":39.77,"type":"quantitative","scale":{"domain":[-6.497,42.265],"nice":false,"zero":false},"axis":null},"y":{"field":"cm","type":"quantitative","scale":{"domain":[27.83,55.085],"nice":false,"zero":false},"axis":null},"text":{"field":"inch","type":"nominal"}}},
{"data":{"values":[{}]},"mark":{"type":"text","text":"_in_","fontSize":20,"fontWeight":"bold","color":"#c8174f","align":"center","baseline":"middle"},"encoding":{"x":{"datum":-3.7,"type":"quantitative","scale":{"domain":[-6.497,42.265],"nice":false,"zero":false},"axis":null},"y":{"datum":53.53,"type":"quantitative","scale":{"domain":[27.83,55.085],"nice":false,"zero":false},"axis":null}}},
{"data":{"values":[{}]},"mark":{"type":"text","text":"_in_","fontSize":20,"fontWeight":"bold","color":"#c8174f","align":"center","baseline":"middle"},"encoding":{"x":{"datum":39.77,"type":"quantitative","scale":{"domain":[-6.497,42.265],"nice":false,"zero":false},"axis":null},"y":{"datum":53.53,"type":"quantitative","scale":{"domain":[27.83,55.085],"nice":false,"zero":false},"axis":null}}},
{"data":{"values":[{}]},"mark":{"type":"text","text":"cm","fontSize":20,"fontWeight":"bold","color":"#c8174f","align":"center","baseline":"middle"},"encoding":{"x":{"datum":-1.08,"type":"quantitative","scale":{"domain":[-6.497,42.265],"nice":false,"zero":false},"axis":null},"y":{"datum":53.53,"type":"quantitative","scale":{"domain":[27.83,55.085],"nice":false,"zero":false},"axis":null}}},
{"data":{"values":[{}]},"mark":{"type":"text","text":"cm","fontSize":20,"fontWeight":"bold","color":"#c8174f","align":"center","baseline":"middle"},"encoding":{"x":{"datum":37.27,"type":"quantitative","scale":{"domain":[-6.497,42.265],"nice":false,"zero":false},"axis":null},"y":{"datum":53.53,"type":"quantitative","scale":{"domain":[27.83,55.085],"nice":false,"zero":false},"axis":null}}},
{"data":{"values":[{}]},"mark":{"type":"text","text":"AGE (MONTHS)","fontSize":18,"fontWeight":"bold","color":"#c8174f","align":"center","baseline":"middle"},"encoding":{"x":{"datum":19.2,"type":"quantitative","scale":{"domain":[-6.497,42.265],"nice":false,"zero":false},"axis":null},"y":{"datum":53.16,"type":"quantitative","scale":{"domain":[27.83,55.085],"nice":false,"zero":false},"axis":null}}},
{"data":{"name":"ends"},"mark":{"type":"text","fontSize":13,"color":"#c8174f","align":"center","baseline":"middle"},"encoding":{"x":{"datum":34.66,"type":"quantitative","scale":{"domain":[-6.497,42.265],"nice":false,"zero":false},"axis":null},"y":{"field":"cm","type":"quantitative","scale":{"domain":[27.83,55.085],"nice":false,"zero":false},"axis":null},"text":{"field":"pct","type":"nominal"}}},
{"data":{"values":[{}]},"mark":{"type":"text","text":["H","E","A","D"],"lineHeight":26.5,"fontSize":18,"fontWeight":"bold","color":"#c8174f","align":"center","baseline":"top"},"encoding":{"x":{"datum":-5.99,"type":"quantitative","scale":{"domain":[-6.497,42.265],"nice":false,"zero":false},"axis":null},"y":{"datum":48.56,"type":"quantitative","scale":{"domain":[27.83,55.085],"nice":false,"zero":false},"axis":null}}},
{"data":{"values":[{}]},"mark":{"type":"text","text":["C","I","R","C","U","M","F","E","R","E","N","C","E"],"lineHeight":26.5,"fontSize":18,"fontWeight":"bold","color":"#c8174f","align":"center","baseline":"top"},"encoding":{"x":{"datum":-5.99,"type":"quantitative","scale":{"domain":[-6.497,42.265],"nice":false,"zero":false},"axis":null},"y":{"datum":44.43,"type":"quantitative","scale":{"domain":[27.83,55.085],"nice":false,"zero":false},"axis":null}}},
{"data":{"values":[{}]},"mark":{"type":"text","text":["H","E","A","D"],"lineHeight":22.6,"fontSize":16,"fontWeight":"bold","color":"#c8174f","align":"center","baseline":"top"},"encoding":{"x":{"datum":41.93,"type":"quantitative","scale":{"domain":[-6.497,42.265],"nice":false,"zero":false},"axis":null},"y":{"datum":53.89,"type":"quantitative","scale":{"domain":[27.83,55.085],"nice":false,"zero":false},"axis":null}}},
{"data":{"values":[{}]},"mark":{"type":"text","text":["C","I","R","C","U","M","F","E","R","E","N","C","E"],"lineHeight":22.6,"fontSize":16,"fontWeight":"bold","color":"#c8174f","align":"center","baseline":"top"},"encoding":{"x":{"datum":41.93,"type":"quantitative","scale":{"domain":[-6.497,42.265],"nice":false,"zero":false},"axis":null},"y":{"datum":50.39,"type":"quantitative","scale":{"domain":[27.83,55.085],"nice":false,"zero":false},"axis":null}}},
{"data":{"name":"dots"},"mark":{"type":"circle","size":180,"color":"black","opacity":1},"encoding":{"x":{"field":"age","type":"quantitative","scale":{"domain":[-6.497,42.265],"nice":false,"zero":false},"axis":null},"y":{"field":"cm","type":"quantitative","scale":{"domain":[27.83,55.085],"nice":false,"zero":false},"axis":null}}},
{"data":{"name":"rings"},"mark":{"type":"point","shape":"M0,-1C0.464,-1,0.84,-0.552,0.84,0C0.84,0.552,0.464,1,0,1C-0.464,1,-0.84,0.552,-0.84,0C-0.84,-0.552,-0.464,-1,0,-1Z","size":250,"fill":"white","stroke":"black","strokeWidth":5.6,"opacity":1},"encoding":{"x":{"field":"age","type":"quantitative","scale":{"domain":[-6.497,42.265],"nice":false,"zero":false},"axis":null},"y":{"field":"cm","type":"quantitative","scale":{"domain":[27.83,55.085],"nice":false,"zero":false},"axis":null}}}
]},
{"layer":[
{"data":{"values":[{}]},"mark":{"type":"rect","color":"white","opacity":1},"encoding":{"x":{"datum":-6.46,"type":"quantitative","scale":{"domain":[-39.09,9.725],"nice":false,"zero":false},"axis":null},"x2":{"datum":10.5},"y":{"datum":55.43,"type":"quantitative","scale":{"domain":[45.24,73.14],"nice":false,"zero":false},"axis":null},"y2":{"datum":44.0}}},
{"data":{"name":"fine"},"mark":{"type":"rule","color":"#b7c4e6","strokeWidth":1},"encoding":{"x":{"datum":-2.34,"type":"quantitative","scale":{"domain":[-39.09,9.725],"nice":false,"zero":false},"axis":null},"x2":{"datum":10.5},"y":{"field":"cm","type":"quantitative","scale":{"domain":[45.24,73.14],"nice":false,"zero":false},"axis":null}}},
{"data":{"name":"half"},"mark":{"type":"rule","color":"#8499d0","strokeWidth":1},"encoding":{"x":{"datum":-2.34,"type":"quantitative","scale":{"domain":[-39.09,9.725],"nice":false,"zero":false},"axis":null},"x2":{"datum":10.5},"y":{"field":"cm","type":"quantitative","scale":{"domain":[45.24,73.14],"nice":false,"zero":false},"axis":null}}},
{"data":{"name":"whole"},"mark":{"type":"rule","color":"#3a5aa6","strokeWidth":1.6},"encoding":{"x":{"datum":-2.34,"type":"quantitative","scale":{"domain":[-39.09,9.725],"nice":false,"zero":false},"axis":null},"x2":{"datum":10.5},"y":{"field":"cm","type":"quantitative","scale":{"domain":[45.24,73.14],"nice":false,"zero":false},"axis":null}}},
{"data":{"name":"months"},"transform":[{"filter":"datum.m <= 10"}],"mark":{"type":"rule","color":"#4d6199","strokeWidth":1},"encoding":{"x":{"field":"m","type":"quantitative","scale":{"domain":[-39.09,9.725],"nice":false,"zero":false},"axis":null},"y":{"datum":44.0,"type":"quantitative","scale":{"domain":[45.24,73.14],"nice":false,"zero":false},"axis":null},"y2":{"datum":54.095}}},
{"data":{"name":"m3"},"transform":[{"filter":"datum.m <= 9"}],"mark":{"type":"rule","color":"#2c4d9e","strokeWidth":2.2},"encoding":{"x":{"field":"m","type":"quantitative","scale":{"domain":[-39.09,9.725],"nice":false,"zero":false},"axis":null},"y":{"datum":44.0,"type":"quantitative","scale":{"domain":[45.24,73.14],"nice":false,"zero":false},"axis":null},"y2":{"datum":54.095}}},
{"data":{"name":"halfm"},"transform":[{"filter":"datum.m <= 10"}],"mark":{"type":"rule","color":"#2c4d9e","strokeWidth":1},"encoding":{"x":{"field":"m","type":"quantitative","scale":{"domain":[-39.09,9.725],"nice":false,"zero":false},"axis":null},"y":{"datum":53.9,"type":"quantitative","scale":{"domain":[45.24,73.14],"nice":false,"zero":false},"axis":null},"y2":{"datum":54.095}}},
{"data":{"values":[{}]},"mark":{"type":"rule","color":"#2c4d9e","strokeWidth":2.6},"encoding":{"x":{"datum":-4.84,"type":"quantitative","scale":{"domain":[-39.09,9.725],"nice":false,"zero":false},"axis":null},"x2":{"datum":10.5},"y":{"datum":54.095,"type":"quantitative","scale":{"domain":[45.24,73.14],"nice":false,"zero":false},"axis":null}}},
{"data":{"values":[{}]},"mark":{"type":"rule","color":"#2c4d9e","strokeWidth":2},"encoding":{"x":{"datum":-4.84,"type":"quantitative","scale":{"domain":[-39.09,9.725],"nice":false,"zero":false},"axis":null},"y":{"datum":44.0,"type":"quantitative","scale":{"domain":[45.24,73.14],"nice":false,"zero":false},"axis":null},"y2":{"datum":54.095}}},
{"data":{"values":[{}]},"mark":{"type":"rule","color":"#2c4d9e","strokeWidth":2},"encoding":{"x":{"datum":-2.34,"type":"quantitative","scale":{"domain":[-39.09,9.725],"nice":false,"zero":false},"axis":null},"y":{"datum":44.0,"type":"quantitative","scale":{"domain":[45.24,73.14],"nice":false,"zero":false},"axis":null},"y2":{"datum":54.095}}},
{"data":{"name":"halfin"},"transform":[{"filter":"datum.cm > 44"}],"mark":{"type":"rule","color":"#8499d0","strokeWidth":1},"encoding":{"x":{"datum":-4.84,"type":"quantitative","scale":{"domain":[-39.09,9.725],"nice":false,"zero":false},"axis":null},"x2":{"datum":-2.34},"y":{"field":"cm","type":"quantitative","scale":{"domain":[45.24,73.14],"nice":false,"zero":false},"axis":null}}},
{"data":{"name":"qin"},"transform":[{"filter":"datum.cm > 44"}],"mark":{"type":"rule","color":"#2c4d9e","strokeWidth":1},"encoding":{"x":{"datum":-2.6,"type":"quantitative","scale":{"domain":[-39.09,9.725],"nice":false,"zero":false},"axis":null},"x2":{"datum":-2.34},"y":{"field":"cm","type":"quantitative","scale":{"domain":[45.24,73.14],"nice":false,"zero":false},"axis":null}}},
{"data":{"name":"inlab"},"transform":[{"filter":"datum.cm > 45"}],"mark":{"type":"rule","color":"#2c4d9e","strokeWidth":1.8},"encoding":{"x":{"datum":-4.84,"type":"quantitative","scale":{"domain":[-39.09,9.725],"nice":false,"zero":false},"axis":null},"x2":{"datum":-4.56},"y":{"field":"cm","type":"quantitative","scale":{"domain":[45.24,73.14],"nice":false,"zero":false},"axis":null}}},
{"data":{"name":"inlab"},"transform":[{"filter":"datum.cm > 45"}],"mark":{"type":"rule","color":"#2c4d9e","strokeWidth":1.8},"encoding":{"x":{"datum":-2.82,"type":"quantitative","scale":{"domain":[-39.09,9.725],"nice":false,"zero":false},"axis":null},"x2":{"datum":-2.34},"y":{"field":"cm","type":"quantitative","scale":{"domain":[45.24,73.14],"nice":false,"zero":false},"axis":null}}},
{"data":{"name":"bcurves"},"transform":[{"filter":{"field":"pct","oneOf":["75","90"]}}],"mark":{"type":"line","color":"#2c4d9e","strokeWidth":1.5,"interpolate":"monotone"},"encoding":{"x":{"field":"age","type":"quantitative","scale":{"domain":[-39.09,9.725],"nice":false,"zero":false},"axis":null},"y":{"field":"cm","type":"quantitative","scale":{"domain":[45.24,73.14],"nice":false,"zero":false},"axis":null},"detail":{"field":"pct","type":"nominal"}}},
{"data":{"name":"bcurves"},"transform":[{"filter":{"field":"pct","oneOf":["50","95"]}}],"mark":{"type":"line","color":"#2c4d9e","strokeWidth":2.8,"interpolate":"monotone"},"encoding":{"x":{"field":"age","type":"quantitative","scale":{"domain":[-39.09,9.725],"nice":false,"zero":false},"axis":null},"y":{"field":"cm","type":"quantitative","scale":{"domain":[45.24,73.14],"nice":false,"zero":false},"axis":null},"detail":{"field":"pct","type":"nominal"}}},
{"data":{"name":"cmlab"},"transform":[{"filter":"datum.cm >= 46"}],"mark":{"type":"point","shape":"M-1,-0.56H1V0.56H-1Z","size":1156,"filled":true,"color":"white","opacity":1},"encoding":{"x":{"datum":-0.95,"type":"quantitative","scale":{"domain":[-39.09,9.725],"nice":false,"zero":false},"axis":null},"y":{"field":"cm","type":"quantitative","scale":{"domain":[45.24,73.14],"nice":false,"zero":false},"axis":null}}},
{"data":{"values":[{}]},"mark":{"type":"point","shape":"M-1,-0.56H1V0.56H-1Z","size":1156,"filled":true,"color":"white","opacity":1},"encoding":{"x":{"datum":-1.17,"type":"quantitative","scale":{"domain":[-39.09,9.725],"nice":false,"zero":false},"axis":null},"y":{"datum":53.62,"type":"quantitative","scale":{"domain":[45.24,73.14],"nice":false,"zero":false},"axis":null}}},
{"data":{"name":"m3"},"transform":[{"filter":"datum.m <= 9"}],"mark":{"type":"text","fontSize":21,"fontWeight":"bold","color":"#233f8c","align":"center","baseline":"middle"},"encoding":{"x":{"field":"m","type":"quantitative","scale":{"domain":[-39.09,9.725],"nice":false,"zero":false},"axis":null},"y":{"datum":54.64,"type":"quantitative","scale":{"domain":[45.24,73.14],"nice":false,"zero":false},"axis":null},"text":{"field":"lab","type":"nominal"}}},
{"data":{"name":"cmlab"},"transform":[{"filter":"datum.cm >= 46"}],"mark":{"type":"text","fontSize":20,"color":"#233f8c","align":"center","baseline":"middle"},"encoding":{"x":{"datum":-0.95,"type":"quantitative","scale":{"domain":[-39.09,9.725],"nice":false,"zero":false},"axis":null},"y":{"field":"cm","type":"quantitative","scale":{"domain":[45.24,73.14],"nice":false,"zero":false},"axis":null},"text":{"field":"cm","type":"quantitative","format":"d"}}},
{"data":{"name":"inlab"},"transform":[{"filter":"datum.cm > 45"}],"mark":{"type":"text","fontSize":20,"color":"#233f8c","align":"center","baseline":"middle"},"encoding":{"x":{"datum":-3.64,"type":"quantitative","scale":{"domain":[-39.09,9.725],"nice":false,"zero":false},"axis":null},"y":{"field":"cm","type":"quantitative","scale":{"domain":[45.24,73.14],"nice":false,"zero":false},"axis":null},"text":{"field":"inch","type":"nominal"}}},
{"data":{"values":[{}]},"mark":{"type":"text","text":"_in_","fontSize":20,"fontWeight":"bold","color":"#233f8c","align":"center","baseline":"middle"},"encoding":{"x":{"datum":-3.58,"type":"quantitative","scale":{"domain":[-39.09,9.725],"nice":false,"zero":false},"axis":null},"y":{"datum":53.62,"type":"quantitative","scale":{"domain":[45.24,73.14],"nice":false,"zero":false},"axis":null}}},
{"data":{"values":[{}]},"mark":{"type":"text","text":"cm","fontSize":20,"fontWeight":"bold","color":"#233f8c","align":"center","baseline":"middle"},"encoding":{"x":{"datum":-1.17,"type":"quantitative","scale":{"domain":[-39.09,9.725],"nice":false,"zero":false},"axis":null},"y":{"datum":53.62,"type":"quantitative","scale":{"domain":[45.24,73.14],"nice":false,"zero":false},"axis":null}}},
{"data":{"values":[{}]},"mark":{"type":"text","text":["H","E","A","D"],"lineHeight":23.5,"fontSize":18,"fontWeight":"bold","color":"#233f8c","align":"center","baseline":"top"},"encoding":{"x":{"datum":-6.12,"type":"quantitative","scale":{"domain":[-39.09,9.725],"nice":false,"zero":false},"axis":null},"y":{"datum":48.68,"type":"quantitative","scale":{"domain":[45.24,73.14],"nice":false,"zero":false},"axis":null}}},
{"data":{"name":"bdot"},"mark":{"type":"circle","size":196,"color":"black","opacity":1},"encoding":{"x":{"field":"age","type":"quantitative","scale":{"domain":[-39.09,9.725],"nice":false,"zero":false},"axis":null},"y":{"field":"cm","type":"quantitative","scale":{"domain":[45.24,73.14],"nice":false,"zero":false},"axis":null}}}
]}
],
"resolve":{"scale":{"x":"independent","y":"independent"}}
}
